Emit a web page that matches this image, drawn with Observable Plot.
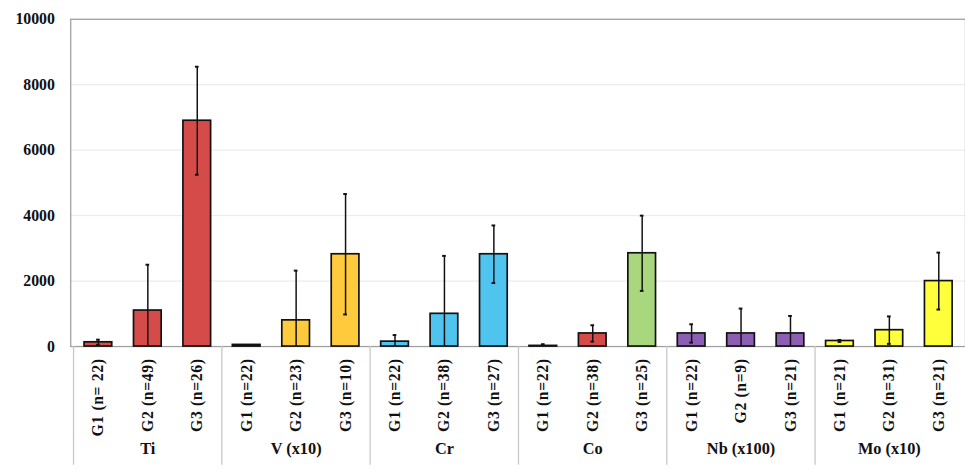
<!DOCTYPE html>
<html>
<head>
<meta charset="utf-8">
<script src="https://cdn.jsdelivr.net/npm/d3@7"></script>
<script src="https://cdn.jsdelivr.net/npm/@observablehq/plot@0.6"></script>
<style>
  html, body { margin: 0; padding: 0; background: #fff; overflow: hidden; }
  #chart svg { display: block; }
  #chart svg g[aria-label="x-axis tick label"] text { letter-spacing: 0.6px; }
</style>
</head>
<body>
<div id="chart"></div>
<script>
// Element groups along the x axis and the three sample groups in each
const elements = ["Ti", "V (x10)", "Cr", "Co", "Nb (x100)", "Mo (x10)"];
const groupNames = ["G1", "G2", "G3"];
const tickLabels = [
  "G1 (n= 22)", "G2 (n=49)", "G3 (n=26)",
  "G1 (n=22)", "G2 (n=23)", "G3 (n=10)",
  "G1 (n=22)", "G2 (n=38)", "G3 (n=27)",
  "G1 (n=22)", "G2 (n=38)", "G3 (n=25)",
  "G1 (n=22)", "G2 (n=9)", "G3 (n=21)",
  "G1 (n=21)", "G2 (n=31)", "G3 (n=21)"
];
// Mean concentrations and their error (±) for each bar
const means = [
  130, 1100, 6900,
  50, 800, 2820,
  150, 1000, 2820,
  20, 400, 2850,
  400, 400, 400,
  170, 500, 2000
];
const errors = [
  80, 1400, 1650,
  0, 1520, 1840,
  200, 1770, 880,
  50, 250, 1150,
  280, 760, 535,
  30, 420, 870
];
const fills = [
  "#d44b4a", "#d44b4a", "#d44b4a",
  "#ffca3c", "#ffca3c", "#ffca3c",
  "#4ec4ef", "#4ec4ef", "#4ec4ef",
  "#8a8a8a", "#d44b4a", "#a9d77e",
  "#8c5fb4", "#8c5fb4", "#8c5fb4",
  "#ffff3c", "#ffff3c", "#ffff3c"
];
const yTicks = [0, 2000, 4000, 6000, 8000, 10000];

const rows = means.map((m, i) => ({
  i,
  element: elements[Math.floor(i / 3)],
  group: groupNames[i % 3],
  mean: m,
  lo: Math.max(0, m - errors[i]),
  hi: m + errors[i],
  err: errors[i],
  fill: fills[i]
}));
const groupStarts = elements.map((e, k) => k * 3);
const groupMids = elements.map((e, k) => ({ i: k * 3 + 1, name: e }));

const width = 976, marginLeft = 71, marginRight = 0;
const band = (width - marginLeft - marginRight) / means.length;
const font = "'Liberation Serif', 'Times New Roman', serif";

const chart = Plot.plot({
  width,
  height: 470,
  marginTop: 19,
  marginBottom: 120,
  marginLeft,
  marginRight,
  style: { fontFamily: font, fontWeight: "bold", fontSize: "16px", color: "#111", background: "#fff" },
  x: { domain: d3.range(means.length), padding: 0, label: null },
  y: { domain: [0, 10000], label: null },
  marks: [
    Plot.gridY(yTicks, { stroke: "#e8e8e8", strokeOpacity: 1 }),
    Plot.frame({ stroke: "#a0a0a0", strokeWidth: 1.3 }),
    // separators between element groups, running below the baseline
    Plot.ruleX(groupStarts, {
      x: d => d, dx: -band / 2,
      insetTop: 331, insetBottom: -120,
      stroke: "#c8c8c8", strokeWidth: 1.3
    }),
    Plot.barY(rows, {
      x: "i", y: "mean", fill: "fill",
      stroke: "#111", strokeWidth: 1.7,
      insetLeft: 11, insetRight: 11
    }),
    Plot.ruleX(rows.filter(d => d.err > 0), {
      x: "i", y1: "lo", y2: "hi", stroke: "#111", strokeWidth: 1.5
    }),
    Plot.tickY(rows.filter(d => d.err > 0), {
      x: "i", y: "hi", stroke: "#111", strokeWidth: 2,
      insetLeft: band / 2 - 2, insetRight: band / 2 - 2
    }),
    Plot.tickY(rows.filter(d => d.err > 0 && d.lo > 0), {
      x: "i", y: "lo", stroke: "#111", strokeWidth: 2,
      insetLeft: band / 2 - 2, insetRight: band / 2 - 2
    }),
    Plot.axisY(yTicks, {
      tickSize: 0, tickPadding: 16, label: null,
      tickFormat: d => String(d),
      fontSize: 16, fontWeight: "bold"
    }),
    Plot.axisX({
      tickSize: 0, tickPadding: 12, tickRotate: -90, label: null,
      tickFormat: i => tickLabels[i], fontSize: 16, fontWeight: "bold"
    }),
    Plot.text(groupMids, {
      x: "i", text: "name", frameAnchor: "bottom", dy: 109,
      fontSize: 16.5, fontWeight: "bold"
    })
  ]
});
document.getElementById("chart").append(chart);
</script>
</body>
</html>
